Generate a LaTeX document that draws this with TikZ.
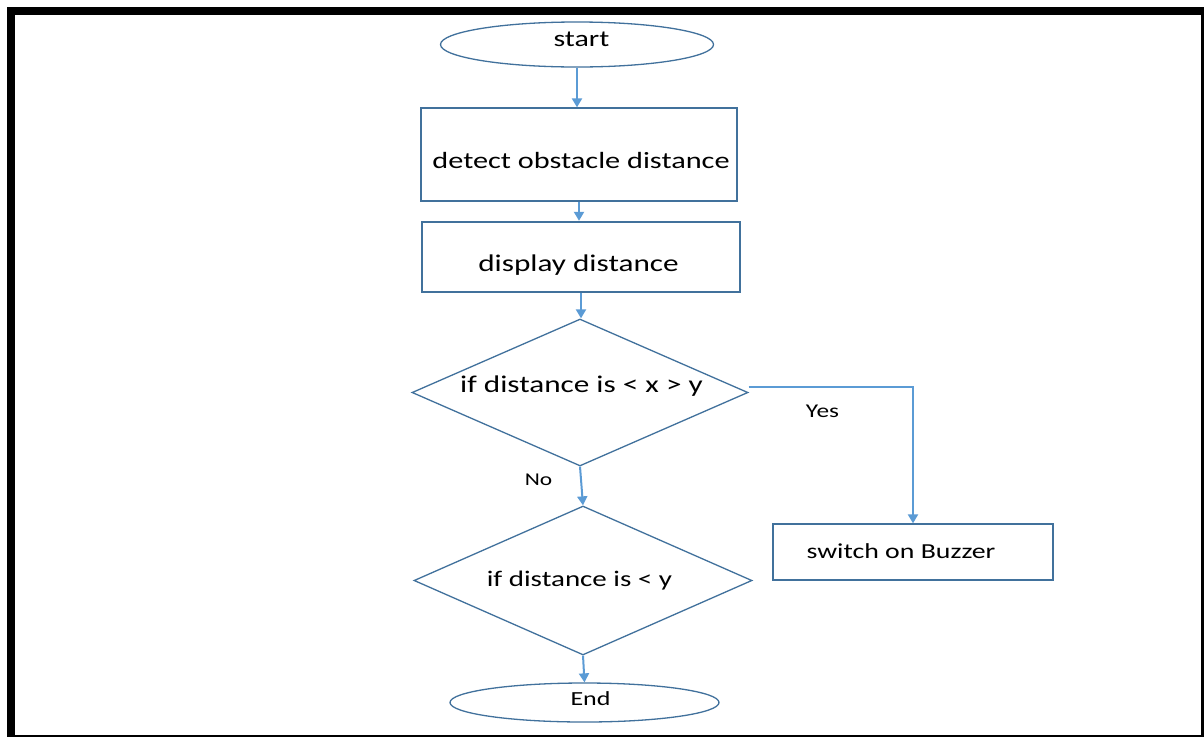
\documentclass[tikz,border=0pt]{standalone}
\usepackage{fontspec}
\setmainfont{Carlito}
\usetikzlibrary{shapes.geometric,arrows.meta}
\definecolor{edge}{HTML}{41719C}
\definecolor{flow}{HTML}{5B9BD5}
% widened text, placed with its baseline relative to the node centre
% #1 horizontal offset, #2 baseline raise, #3 text
\newcommand\txtat[3]{\makebox[0pt]{\hspace*{#1}\raisebox{#2}[0pt][0pt]{\scalebox{1.3}[1]{#3}}}}
\newcommand\wtxt[1]{\scalebox{1.3}[1]{#1}}

\begin{document}
\begin{tikzpicture}[x=1pt,y=-1pt,
  shapeline/.style={draw=edge,line width=1.3pt,inner sep=0pt,text=black},
  procbox/.style={shapeline,rectangle},
  term/.style={shapeline,ellipse},
  decision/.style={shapeline,diamond,shape aspect=2.3},
  flowline/.style={draw=flow,line width=2pt,-{Triangle[width=10pt,length=9pt]}},
  fsz/.style={font=\fontsize{#1}{#1}\selectfont},
  lbl/.style={inner sep=0pt,anchor=base}
]
\fill[white] (0,0) rectangle (1204,737);
\useasboundingbox (0,0) rectangle (1204,737);

% outer frame
\fill[black] (7,7) rectangle (1204,15);
\fill[black] (7,7) rectangle (15,737);
\fill[black] (1201,7) rectangle (1204,737);
\fill[black] (7,735) rectangle (1204,737);

% flowchart nodes
\node[term, minimum width=273pt, minimum height=45pt, fsz=23] (start) at (577,44.5) {\txtat{9pt}{-2pt}{start}};
\node[procbox, minimum width=316pt, minimum height=93pt, fsz=23.3] (detect) at (579,154.5) {\txtat{4pt}{-14pt}{detect obstacle distance}};
\node[procbox, line width=2.4pt, minimum width=318pt, minimum height=70pt, fsz=24] (show) at (581,257) {\txtat{-5pt}{-14pt}{display distance}};
\node[decision, minimum width=336pt, minimum height=147pt, fsz=24] (range) at (580,392.5) {\txtat{3pt}{0pt}{if distance is < x > y}};
\node[decision, minimum width=338pt, minimum height=149pt, fsz=22.3] (near) at (583,580.5) {\txtat{-7pt}{-6pt}{if distance is < y}};
\node[procbox, minimum width=280pt, minimum height=56pt, fsz=21.4] (buzz) at (913,552) {\txtat{-24pt}{-6pt}{switch on Buzzer}};
\node[term, minimum width=269pt, minimum height=39pt, fsz=20] (stop) at (584.5,702.5) {\txtat{12pt}{-3pt}{End}};

% branch labels
\node[lbl, fsz=19.5] (yes) at (822.5,417.7) {\wtxt{Yes}};
\node[lbl, fsz=18] (no) at (538.5,485.7) {\wtxt{No}};

% connectors
\draw[flowline] (start.south) -- (start.south |- detect.north);
\draw[flowline] (detect.south) -- (detect.south |- show.north);
\draw[flowline] (show.south) -- (show.south |- range.north);
\draw[flowline] (range.south) -- (near.north);
\draw[flowline] (near.south) -- (stop.north);
\draw[flowline] ([yshift=5.5pt]range.east) -| (buzz.north);
\end{tikzpicture}
\end{document}
